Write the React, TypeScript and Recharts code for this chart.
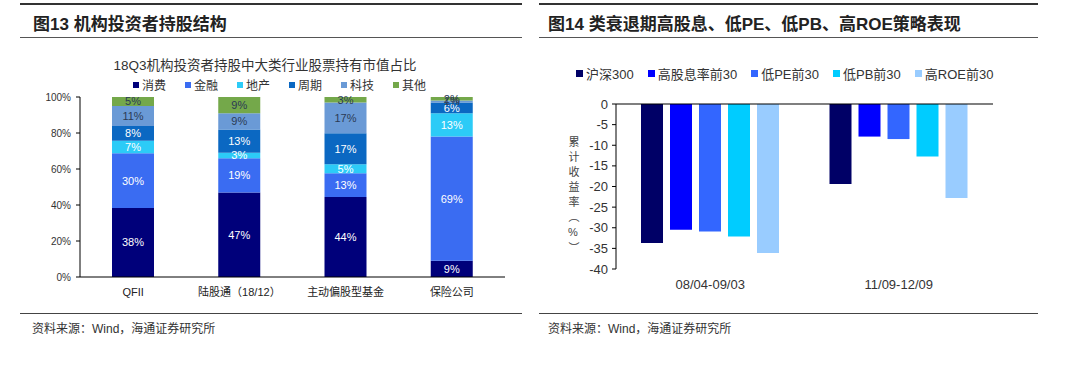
import { BarChart, Bar, XAxis, YAxis, LabelList, ReferenceLine } from 'recharts'

// 图13 data
const holders = ['QFII', '陆股通（18/12）', '主动偏股型基金', '保险公司']
const sectors = ['消费', '金融', '地产', '周期', '科技', '其他']
const sectorColors = ['#00007a', '#3a6cf2', '#2ccbf7', '#0b68c2', '#6a9ad6', '#74a84a']
const consumer = [38, 47, 44, 9]
const finance = [30, 19, 13, 69]
const property = [7, 3, 5, 13]
const cyclical = [8, 13, 17, 6]
const tech = [11, 9, 17, 1]
const other = [5, 9, 3, 2]
const pctTicks = [0, 0.2, 0.4, 0.6, 0.8, 1]

// 图14 data
const periods = ['08/04-09/03', '11/09-12/09']
const strategies = ['沪深300', '高股息率前30', '低PE前30', '低PB前30', '高ROE前30']
const strategyColors = ['#000066', '#0000ff', '#3366ff', '#00ccff', '#99ccff']
const hs300 = [-33.7, -19.4]
const highDividend = [-30.5, -7.9]
const lowPE = [-30.9, -8.5]
const lowPB = [-32.1, -12.7]
const highROE = [-36.1, -22.8]
const returnTicks = [0, -5, -10, -15, -20, -25, -30, -35, -40]

const font = '"Liberation Sans", Arial, "Noto Sans CJK SC", sans-serif'

const sectorValues = [consumer, finance, property, cyclical, tech, other]
const holdingData = holders.map((name, i) => {
    const row: Record<string, string | number> = { name }
    sectors.forEach((s, j) => {
        row[s] = sectorValues[j][i]
    })
    return row
})

const strategyValues = [hs300, highDividend, lowPE, lowPB, highROE]
const returnData = periods.map((name, i) => {
    const row: Record<string, string | number> = { name }
    strategies.forEach((s, j) => {
        row[s] = strategyValues[j][i]
    })
    return row
})

const Legend = ({ names, colors, fontSize, gap, box }: { names: string[]; colors: string[]; fontSize: number; gap: number; box: number }) => (
    <div style={{ display: 'flex', alignItems: 'center', fontSize, color: '#333', whiteSpace: 'nowrap' }}>
        {names.map((n, i) => (
            <div key={n} style={{ display: 'flex', alignItems: 'center', marginRight: i < names.length - 1 ? gap : 0 }}>
                <span style={{ width: box, height: box, background: colors[i], marginRight: 3, display: 'inline-block' }} />
                <span>{n}</span>
            </div>
        ))}
    </div>
)

const hline = (left: number, top: number, width: number, thick: number, color: string) => (
    <div style={{ position: 'absolute', left, top, width, height: 0, borderTop: `${thick}px solid ${color}` }} />
)

const App = () => {
    return (
        <div style={{ position: 'absolute', left: 0, top: 0, width: 1080, height: 370, background: '#fff', fontFamily: font, overflow: 'hidden' }}>
            {/* left panel frame */}
            {hline(20, 3, 502, 2, '#333')}
            {hline(20, 37, 502, 1.5, '#555')}
            {hline(20, 313, 502, 1.5, '#444')}
            <div style={{ position: 'absolute', left: 33, top: 10, fontSize: 17, fontWeight: 700, color: '#222' }}>图13 机构投资者持股结构</div>
            <div style={{ position: 'absolute', left: 32, top: 319, fontSize: 12, color: '#333' }}>资料来源：Wind，海通证券研究所</div>

            {/* right panel frame */}
            {hline(539, 3, 499, 2, '#333')}
            {hline(539, 37, 499, 1.5, '#555')}
            {hline(539, 313, 499, 1.5, '#444')}
            <div style={{ position: 'absolute', left: 548, top: 10, fontSize: 17, fontWeight: 700, color: '#222' }}>图14 类衰退期高股息、低PE、低PB、高ROE策略表现</div>
            <div style={{ position: 'absolute', left: 548, top: 319, fontSize: 12, color: '#333' }}>资料来源：Wind，海通证券研究所</div>

            {/* left chart */}
            <div style={{ position: 'absolute', left: 0, top: 54, width: 530, textAlign: 'center', fontSize: 13.5, color: '#333' }}>
                18Q3机构投资者持股中大类行业股票持有市值占比
            </div>
            <div style={{ position: 'absolute', left: 133, top: 76 }}>
                <Legend names={sectors} colors={sectorColors} fontSize={12} gap={19} box={6} />
            </div>
            <div style={{ position: 'absolute', left: 0, top: 90 }}>
                <BarChart width={530} height={220} data={holdingData} stackOffset="expand" barSize={42} margin={{ top: 7, right: 25, bottom: 3, left: 0 }}>
                    <XAxis xAxisId="grid" type="number" domain={[0, holders.length]} ticks={holders.map((_, i) => i).concat(holders.length)} tickFormatter={() => ''} axisLine={false} tickSize={5} tickLine={{ stroke: '#000' }} height={0} />
                    <XAxis xAxisId="cat" dataKey="name" axisLine={{ stroke: '#000' }} tickLine={false} tickMargin={5} height={30} interval={0} tick={{ fill: '#222', fontSize: 11 }} />
                    <YAxis domain={[0, 1]} ticks={pctTicks} interval={0} tickFormatter={(v: number) => `${Math.round(v * 100)}%`} width={80} axisLine={{ stroke: '#000' }} tickLine={{ stroke: '#000' }} tickSize={4} tickMargin={5} tick={{ fill: '#333', fontSize: 10 }} />
                    {sectors.map((s, j) => (
                        <Bar key={s} dataKey={s} stackId="a" xAxisId="cat" fill={sectorColors[j]} isAnimationActive={false}>
                            <LabelList dataKey={s} position="center" formatter={(v: any) => `${v}%`} fill={j >= 4 ? '#2b3a55' : '#fff'} fontSize={11} />
                        </Bar>
                    ))}
                </BarChart>
            </div>

            {/* right chart */}
            <div style={{ position: 'absolute', left: 576, top: 64 }}>
                <Legend names={strategies} colors={strategyColors} fontSize={13} gap={14} box={7} />
            </div>
            <div style={{ position: 'absolute', left: 565, top: 136, fontSize: 11, color: '#444', writingMode: 'vertical-rl', textOrientation: 'upright', letterSpacing: 4 }}>
                累计收益率（%）
            </div>
            <div style={{ position: 'absolute', left: 540, top: 90 }}>
                <BarChart width={470} height={220} data={returnData} barSize={22} barGap={7} margin={{ top: 14, right: 17, bottom: 0, left: 0 }}>
                    <XAxis dataKey="name" axisLine={false} tickLine={false} tickMargin={5} height={41} tick={{ fill: '#333', fontSize: 13 }} />
                    <YAxis domain={[-40, 0]} ticks={returnTicks} interval={0} width={76} axisLine={{ stroke: '#000' }} tickLine={{ stroke: '#000' }} tickSize={4} tickMargin={4} tick={{ fill: '#333', fontSize: 13 }} />
                    {strategies.map((s, j) => (
                        <Bar key={s} dataKey={s} fill={strategyColors[j]} isAnimationActive={false} />
                    ))}
                    <ReferenceLine y={0} stroke="#000" strokeWidth={1.2} />
                </BarChart>
            </div>
        </div>
    )
}

export default App
